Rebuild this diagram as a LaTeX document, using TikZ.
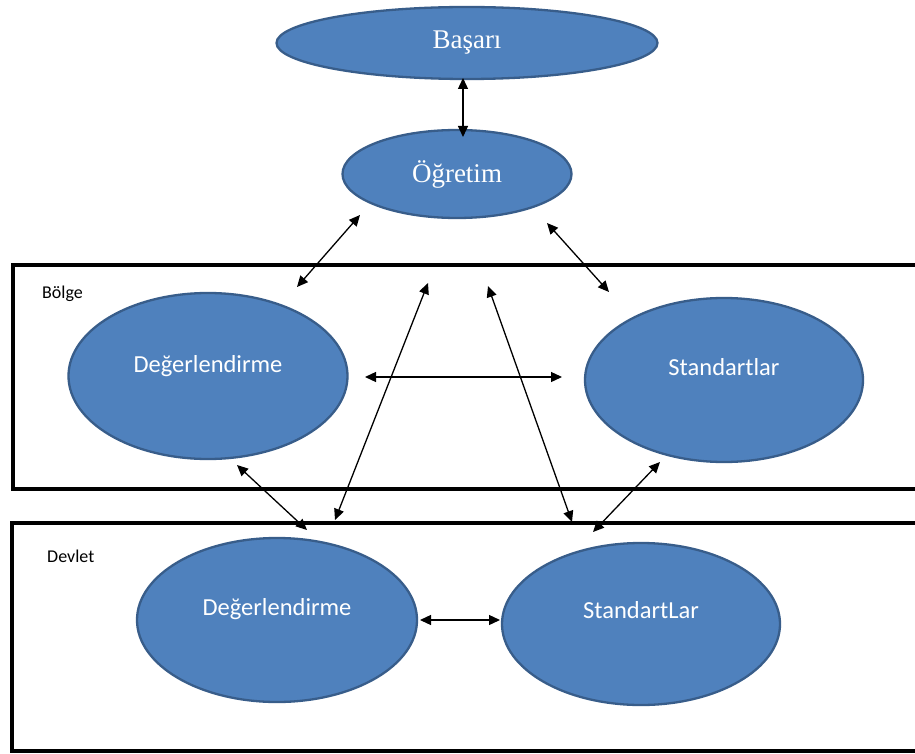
\documentclass[tikz,border=0pt]{standalone}
\usepackage{fontspec}
\setmainfont{Liberation Serif}
\newfontfamily\carlitofont{Carlito}
\usetikzlibrary{shapes.geometric,arrows.meta}
\definecolor{fillblue}{HTML}{4F81BD}
\definecolor{edgeblue}{HTML}{385D8A}
\begin{document}
\begin{tikzpicture}[x=1pt,y=-1pt,
 oval/.style={ellipse, draw=edgeblue, fill=fillblue, line width=2.3pt, inner sep=0pt},
 seriflabel/.style={text=white, font=\fontsize{27}{30}\selectfont},
 sanslabel/.style={text=white, font=\carlitofont\fontsize{24.5}{28}\selectfont, anchor=base},
 framebox/.style={draw=black, line width=3.5pt},
 framelabel/.style={font=\carlitofont\fontsize{18}{20}\selectfont, anchor=base west, inner sep=0pt},
 link/.style={{Triangle[length=11pt,width=10pt]}-{Triangle[length=11pt,width=10pt]}, line width=1.3pt}
]
\useasboundingbox (0,0) rectangle (915,754);
\fill[white] (0,0) rectangle (915,754);

% region frames
\draw[framebox] (13,265) rectangle (925,489);
\draw[framebox] (12,523) rectangle (925,751);
\node[framelabel] (bolge) at (42,298) {Bölge};
\node[framelabel] (devlet) at (47,562) {Devlet};

% ellipses
\node[oval, minimum width=381pt, minimum height=72pt] (basari) at (467,43) {};
\node[seriflabel] (basaritxt) at (basari.center) {Başarı};
\node[oval, minimum width=229pt, minimum height=88pt] (ogretim) at (457,174) {};
\node[seriflabel] (ogretimtxt) at (ogretim.center) {Öğretim};

\node[oval, minimum width=279pt, minimum height=166pt] (degb) at (208,376) {};
\node[sanslabel] (degbtxt) at ([yshift=4pt]degb.center) {Değerlendirme};
\node[oval, minimum width=278pt, minimum height=164pt] (stab) at (724,380) {};
\node[sanslabel] (stabtxt) at ([yshift=5pt]stab.center) {Standartlar};

\node[oval, minimum width=280pt, minimum height=164pt] (degd) at (277,620) {};
\node[sanslabel] (degdtxt) at ([yshift=5pt]degd.center) {Değerlendirme};
\node[oval, minimum width=278pt, minimum height=162pt] (stad) at (641,624) {};
\node[sanslabel] (stadtxt) at ([yshift=6pt]stad.center) {StandartLar};

% arrow end points
\coordinate (a1s) at (463,78);  \coordinate (a1e) at (463,137);
\coordinate (a2s) at (360,215); \coordinate (a2e) at (297,287);
\coordinate (a3s) at (547,223); \coordinate (a3e) at (609,292);
\coordinate (a4s) at (365,377); \coordinate (a4e) at (562,377);
\coordinate (a5s) at (237,465); \coordinate (a5e) at (307,530);
\coordinate (a6s) at (428,283); \coordinate (a6e) at (335,520);
\coordinate (a7s) at (488,286); \coordinate (a7e) at (572,522);
\coordinate (a8s) at (660,462); \coordinate (a8e) at (593,532);
\coordinate (a9s) at (420,620); \coordinate (a9e) at (500,620);

\draw[link] (a1s) -- (a1e);
\draw[link] (a2s) -- (a2e);
\draw[link] (a3s) -- (a3e);
\draw[link] (a4s) -- (a4e);
\draw[link] (a5s) -- (a5e);
\draw[link] (a6s) -- (a6e);
\draw[link] (a7s) -- (a7e);
\draw[link] (a8s) -- (a8e);
\draw[link] (a9s) -- (a9e);
\end{tikzpicture}
\end{document}
